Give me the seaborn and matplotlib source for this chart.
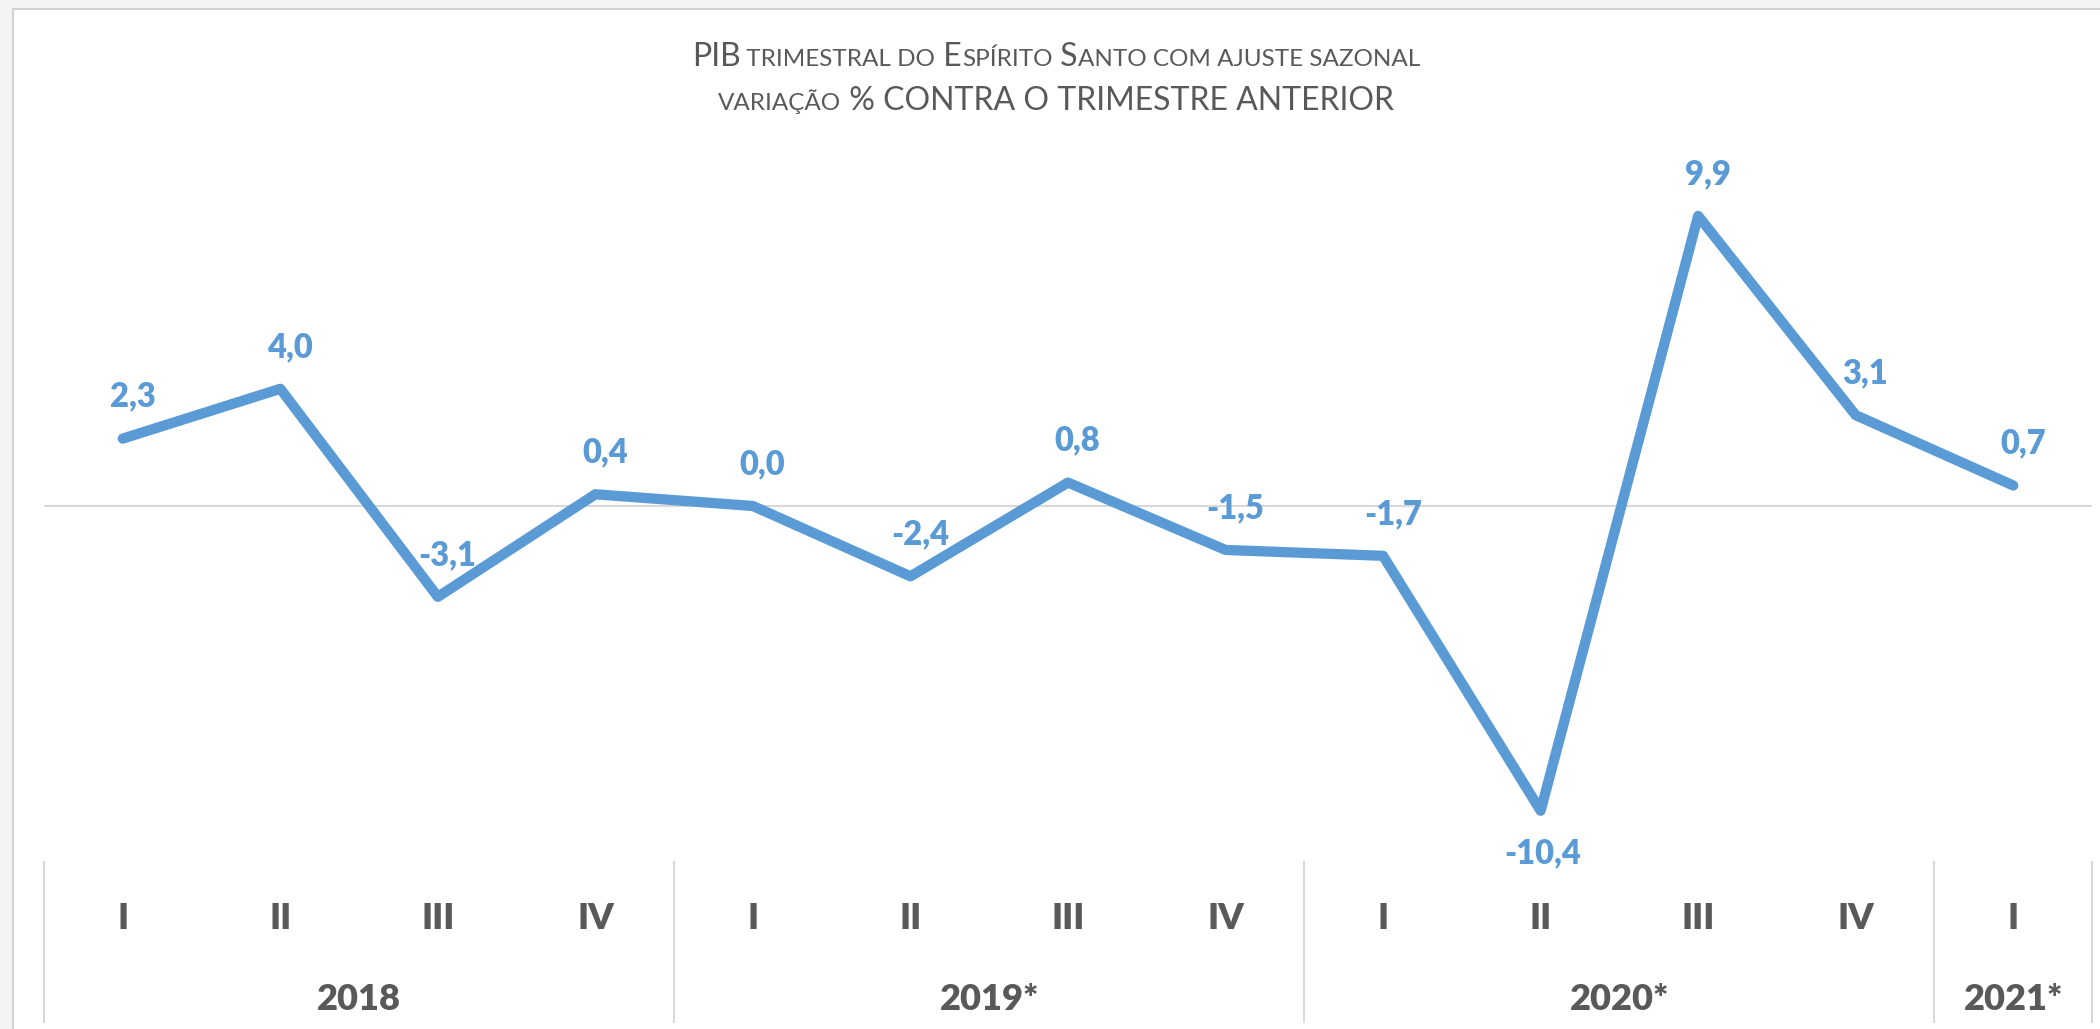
import numpy as np
import pandas as pd
import matplotlib
matplotlib.use("Agg")
import matplotlib.pyplot as plt
import seaborn as sns
from matplotlib.transforms import blended_transform_factory
from matplotlib.offsetbox import TextArea, HPacker, VPacker, AnnotationBbox
from matplotlib.patches import Rectangle

# ---------------- data ----------------
quarters = ["I", "II", "III", "IV", "I", "II", "III", "IV", "I", "II", "III", "IV", "I"]
years = ["2018", "2019*", "2020*", "2021*"]
year_sizes = [4, 4, 4, 1]
values = [2.3, 4.0, -3.1, 0.4, 0.0, -2.4, 0.8, -1.5, -1.7, -10.4, 9.9, 3.1, 0.7]
labels = ["2,3", "4,0", "-3,1", "0,4", "0,0", "-2,4", "0,8", "-1,5", "-1,7", "-10,4", "9,9", "3,1", "0,7"]
label_below = [False] * 9 + [True] + [False] * 3

# ---------------- style ----------------
LINE = "#5B9BD5"
TXT = "#595959"
GRID = "#D9D9D9"
FONT = ["Lato", "DejaVu Sans"]

sns.set_theme(style="white")
plt.rcParams["font.family"] = FONT

W, H, DPI = 2100, 1029, 100
fig = plt.figure(figsize=(W / DPI, H / DPI), dpi=DPI)
fig.patch.set_facecolor("#F4F4F5")

# white chart area with border
bg = Rectangle((13 / W, -0.02), 1.1, 1 - 9 / H + 0.02,
               transform=fig.transFigure, facecolor="white",
               edgecolor="#D2D2D2", linewidth=1.5, zorder=-10)
fig.add_artist(bg)

ax_left, ax_right = 44, 2092
ax_top, ax_bot = 120, 857
ax = fig.add_axes([ax_left / W, 1 - ax_bot / H, (ax_right - ax_left) / W, (ax_bot - ax_top) / H])
ax.set_facecolor("none")
ax.set_zorder(1)

df = pd.DataFrame({"idx": np.arange(len(values)), "val": values})
sns.lineplot(data=df, x="idx", y="val", color=LINE, linewidth=7.4, ax=ax, zorder=3)
for ln in ax.lines:
    ln.set_solid_capstyle("round")
    ln.set_solid_joinstyle("round")

ax.axhline(0, color=GRID, linewidth=1.5, zorder=1)

px_per_unit = 29.3
ax.set_xlim(-0.5, len(values) - 0.5)
ax.set_ylim(-(ax_bot - 506) / px_per_unit, (506 - ax_top) / px_per_unit)
for s in ax.spines.values():
    s.set_visible(False)
ax.set_xticks([])
ax.set_yticks([])
ax.set_xlabel("")
ax.set_ylabel("")

# data labels
for i, (v, lab, below) in enumerate(zip(values, labels, label_below)):
    off = (1.5, -38) if below else (7, 23)
    ax.annotate(lab, (i, v), xytext=off, textcoords="offset points",
                ha="center", va="baseline", fontsize=23.5, fontweight="heavy",
                color=LINE, family=FONT, zorder=4)

# category axis (multi-level)
tr = blended_transform_factory(ax.transData, fig.transFigure)
for i, q in enumerate(quarters):
    ax.text(i, 1 - 929 / H, q, transform=tr, ha="center", va="baseline",
            fontsize=26, fontweight="heavy", color=TXT, family=FONT, clip_on=False)

start = 0
bounds = [-0.5]
for y, n in zip(years, year_sizes):
    centre = start + (n - 1) / 2
    ax.text(centre, 1 - 1010 / H, y, transform=tr, ha="center", va="baseline",
            fontsize=26, fontweight="heavy", color=TXT, family=FONT, clip_on=False)
    start += n
    bounds.append(start - 0.5)
for b in bounds:
    ax.plot([b, b], [1 - 861 / H, 1 - 1023 / H], transform=tr, color=GRID,
            linewidth=1.5, clip_on=False, solid_capstyle="butt")

# title with small caps
BIG, SMALL = 23, 17.5


def seg(t, big):
    return TextArea(t, textprops=dict(fontsize=BIG if big else SMALL, color=TXT, family=FONT))


line1 = HPacker(children=[seg("PIB", True), seg(" TRIMESTRAL DO", False), seg(" E", True),
                          seg("SPÍRITO", False), seg(" S", True),
                          seg("ANTO COM AJUSTE SAZONAL", False)],
                align="baseline", pad=0, sep=0)
line2 = HPacker(children=[seg("VARIAÇÃO", False), seg(" % CONTRA O TRIMESTRE ANTERIOR", True)],
                align="baseline", pad=0, sep=0)
title = VPacker(children=[line1, line2], align="center", pad=0, sep=10)
ab = AnnotationBbox(title, (1056, H - 79), xycoords="figure pixels",
                    box_alignment=(0.5, 0.5), frameon=False, pad=0)
fig.add_artist(ab)

fig.savefig("out.png", dpi=DPI, facecolor=fig.get_facecolor())
